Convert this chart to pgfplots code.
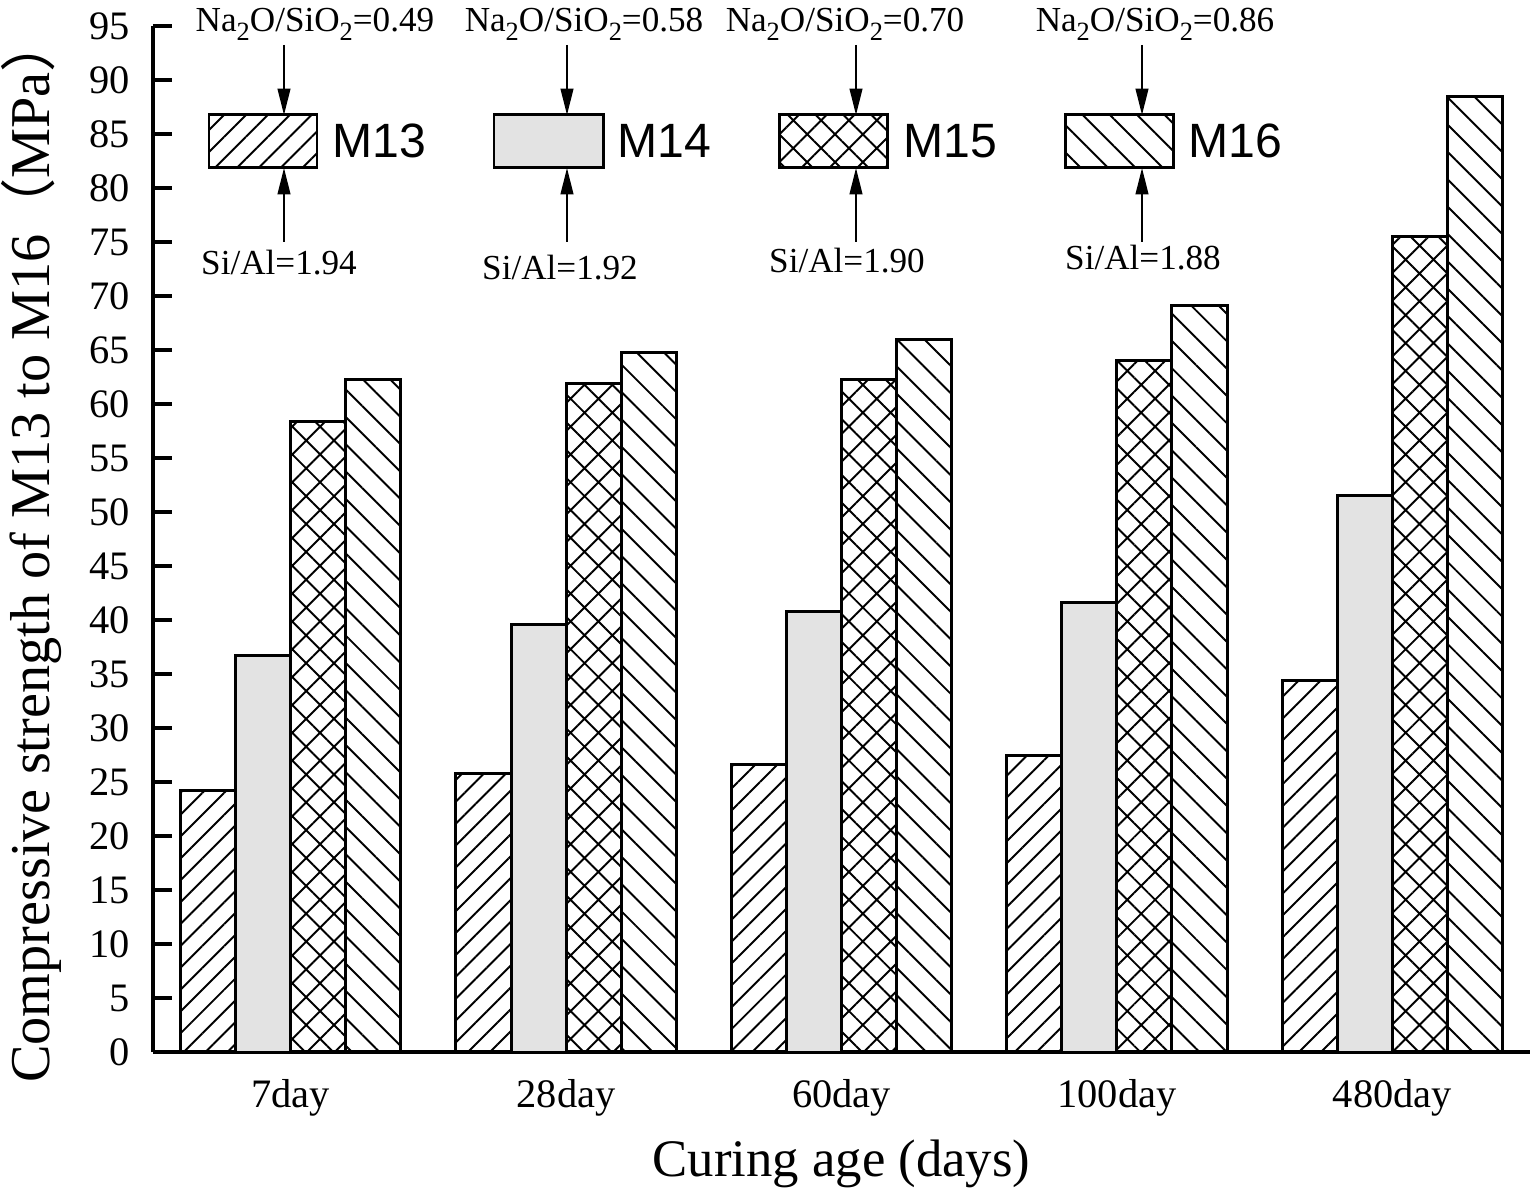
\documentclass[border=0pt]{standalone}
\usepackage{fontspec}
\setmainfont{Liberation Serif}
\newfontfamily\arialf{Liberation Sans}
\newfontfamily\cjk{Noto Sans CJK SC}
\usepackage{pgfplots}
\pgfplotsset{compat=1.18}
\usetikzlibrary{patterns.meta,arrows.meta}

\newcommand{\sub}[1]{\raisebox{-0.55ex}{\fontsize{7.5}{8}\selectfont #1}}

\tikzset{
  pM13/.style={pattern={Lines[angle=45,distance=4.4pt,line width=0.55pt]}},
  pM14/.style={fill=black!11},
  pM15/.style={pattern={Hatch[angle=45,distance=5.6pt,line width=0.55pt]}},
  pM16/.style={pattern={Lines[angle=-45,distance=5.5pt,line width=0.55pt]}},
}

\begin{document}
\begin{tikzpicture}
\begin{axis}[
  at={(0,0)}, anchor=south west,
  scale only axis, width=13.77cm, height=10.26cm,
  xmin=-0.5, xmax=4.5, ymin=0, ymax=95,
  axis x line*=bottom, axis y line*=left,
  axis line style={line width=1.1pt},
  xtick={0,1,2,3,4},
  xticklabels={7day,28day,60day,100day,480day},
  x tick style={draw=none},
  ytick={0,5,...,95},
  y tick style={line width=1pt, black},
  major tick length=5.5pt, tick align=inside,
  tick label style={font=\fontsize{11.5}{13}\selectfont},
  xticklabel style={yshift=1.2pt},
  yticklabel style={xshift=-3pt},
  /pgf/number format/assume math mode=true,
  xlabel={Curing age (days)},
  ylabel={Compressive strength of M13 to M16{\cjk （}MPa{\cjk ）}},
  xlabel style={font=\fontsize{15}{17}\selectfont, at={(axis description cs:0.5,-0.121)}, anchor=base},
  ylabel style={font=\fontsize{16}{18}\selectfont, at={(axis description cs:-0.0748,0.49)}, anchor=base},
  ybar, bar width=0.2,
  every axis plot/.append style={draw=black, line width=0.85pt},
]
\addplot[pM13, bar shift=-0.3] coordinates {(0,24.2) (1,25.8) (2,26.6) (3,27.5) (4,34.4)};
\addplot[pM14, bar shift=-0.1] coordinates {(0,36.7) (1,39.6) (2,40.8) (3,41.6) (4,51.5)};
\addplot[pM15, bar shift=0.1] coordinates {(0,58.4) (1,61.9) (2,62.3) (3,64.0) (4,75.5)};
\addplot[pM16, bar shift=0.3] coordinates {(0,62.3) (1,64.8) (2,66.0) (3,69.1) (4,88.5)};
\end{axis}

% legend annotations (cm, origin = axis lower-left)
\begin{scope}[line width=0.85pt]
\draw[pM13] (0.56,8.84) rectangle (1.64,9.37);
\draw[pM14] (3.41,8.84) rectangle (4.50,9.37);
\draw[pM15] (6.26,8.84) rectangle (7.34,9.37);
\draw[pM16] (9.12,8.84) rectangle (10.20,9.37);
\end{scope}
\begin{scope}[line width=0.6pt, -{Triangle[length=7.5pt,width=3.6pt]}]
\foreach \x in {1.31,4.14,7.03,9.89}{
  \draw (\x,10.07) -- (\x,9.37);
  \draw (\x,8.10) -- (\x,8.84);
}
\end{scope}
\begin{scope}[font=\arialf\fontsize{13.7}{15}\selectfont]
\node[anchor=base west, inner sep=0pt] at (1.79,8.94) {M13};
\node[anchor=base west, inner sep=0pt] at (4.64,8.94) {M14};
\node[anchor=base west, inner sep=0pt] at (7.50,8.94) {M15};
\node[anchor=base west, inner sep=0pt] at (10.35,8.94) {M16};
\end{scope}
\begin{scope}[font=\fontsize{10}{12}\selectfont]
\node[anchor=base, inner sep=0pt] at (1.62,10.20) {Na\sub{2}O/SiO\sub{2}=0.49};
\node[anchor=base, inner sep=0pt] at (4.31,10.20) {Na\sub{2}O/SiO\sub{2}=0.58};
\node[anchor=base, inner sep=0pt] at (6.92,10.20) {Na\sub{2}O/SiO\sub{2}=0.70};
\node[anchor=base, inner sep=0pt] at (10.02,10.20) {Na\sub{2}O/SiO\sub{2}=0.86};
\node[anchor=base, inner sep=0pt] at (1.26,7.77) {Si/Al=1.94};
\node[anchor=base, inner sep=0pt] at (4.07,7.72) {Si/Al=1.92};
\node[anchor=base, inner sep=0pt] at (6.94,7.79) {Si/Al=1.90};
\node[anchor=base, inner sep=0pt] at (9.90,7.82) {Si/Al=1.88};
\end{scope}

\pgfresetboundingbox
\path[use as bounding box] (-1.53,-1.40) rectangle (13.83,10.52);
\end{tikzpicture}
\end{document}
